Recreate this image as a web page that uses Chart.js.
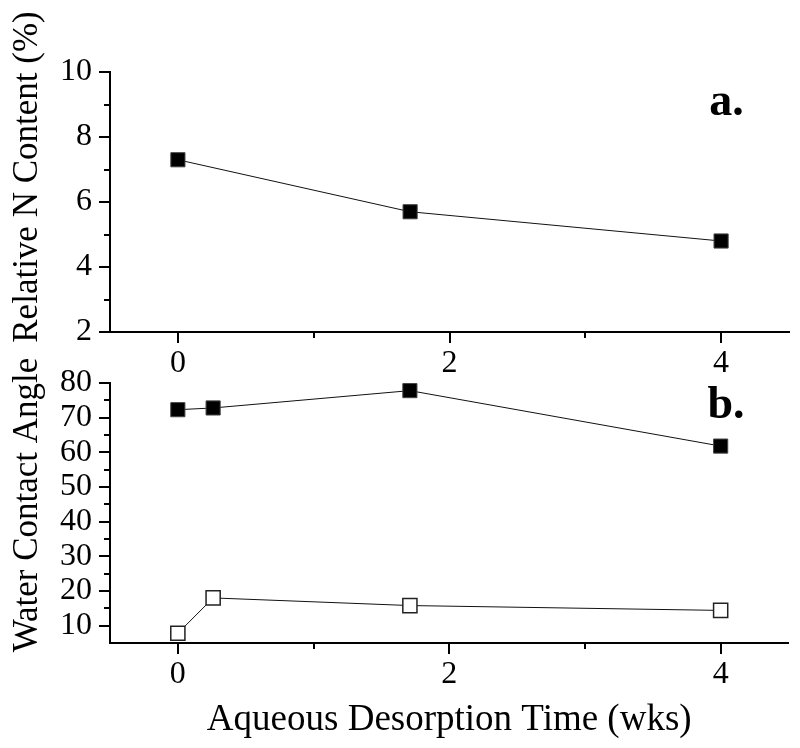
<!DOCTYPE html>
<html>
<head>
<meta charset="utf-8">
<script src="https://cdn.jsdelivr.net/npm/chart.js@4"></script>
<style>
  html, body { margin: 0; padding: 0; background: #fff; }
  #wrap { position: relative; width: 800px; height: 748px; }
  #wrap canvas { position: absolute; left: 0; top: 0; }
</style>
</head>
<body>
<div id="wrap">
  <canvas id="chart-a" width="800" height="748"></canvas>
  <canvas id="chart-b" width="800" height="748"></canvas>
</div>
<script>
// --- data ---
const weeksA      = [0, 1.71, 4];
const nContent    = [7.3, 5.7, 4.8];

const weeksB      = [0, 0.26, 1.71, 4];
const angleFilled = [72.3, 72.8, 77.8, 61.8];
const angleOpen   = [7.8, 18.0, 15.8, 14.4];

// axis ticks (majors get labels + long marks)
const xTicks       = [0, 1, 2, 3, 4];
const xMajor       = [0, 2, 4];
const yTicksA      = [2, 3, 4, 5, 6, 7, 8, 9, 10];
const yMajorA      = [2, 4, 6, 8, 10];
const yTicksB      = [10, 15, 20, 25, 30, 35, 40, 45, 50, 55, 60, 65, 70, 75, 80];
const yMajorB      = [10, 20, 30, 40, 50, 60, 70, 80];

const FONT = 'Liberation Serif, Times New Roman, serif';

const pts = (xs, ys) => xs.map((x, i) => ({ x, y: ys[i] }));

// custom tick marks: outward, long for majors, short for minors
const tickMarks = {
    id: 'tickMarks',
    afterDraw(chart) {
        const ctx  = chart.ctx;
        const area = chart.chartArea;
        const { x, y } = chart.scales;
        ctx.save();
        ctx.strokeStyle = '#000';
        ctx.lineWidth   = 2;
        x.ticks.forEach(t => {
            const px  = Math.round(x.getPixelForValue(t.value));
            const len = t.isMajor ? 11 : 6;
            ctx.beginPath();
            ctx.moveTo(px, area.bottom);
            ctx.lineTo(px, area.bottom + len);
            ctx.stroke();
        });
        y.ticks.forEach(t => {
            const py  = Math.round(y.getPixelForValue(t.value));
            const len = t.isMajor ? 11 : 6;
            ctx.beginPath();
            ctx.moveTo(area.left, py);
            ctx.lineTo(area.left - len, py);
            ctx.stroke();
        });
        ctx.restore();
    }
};

// panel letter ("a." / "b."), placed through the scales
const panelLabel = {
    id: 'panelLabel',
    afterDraw(chart, args, opts) {
        if (!opts.text) return;
        const ctx = chart.ctx;
        const px = chart.scales.x.getPixelForValue(opts.x);
        const py = chart.scales.y.getPixelForValue(opts.y);
        ctx.save();
        ctx.fillStyle    = '#000';
        ctx.font         = `bold 46px ${FONT}`;
        ctx.textAlign    = 'center';
        ctx.textBaseline = 'alphabetic';
        ctx.fillText(opts.text, px, py);
        ctx.restore();
    }
};

// rotated y title; the original sits a bit above the panel centre
const sideTitle = {
    id: 'sideTitle',
    afterDraw(chart, args, opts) {
        if (!opts.text) return;
        const ctx  = chart.ctx;
        const area = chart.chartArea;
        ctx.save();
        ctx.translate(opts.x, (area.top + area.bottom) / 2 + opts.shift);
        ctx.rotate(-Math.PI / 2);
        ctx.fillStyle    = '#000';
        ctx.font         = `${opts.size}px ${FONT}`;
        ctx.textAlign    = 'center';
        ctx.textBaseline = 'middle';
        ctx.fillText(opts.text, 0, 0);
        ctx.restore();
    }
};

function makeTicks(values, majors) {
    return scale => { scale.ticks = values.map(v => ({ value: v, isMajor: majors.includes(v) })); };
}

function baseOptions({ padTop, padBottom, xHeight, yMin, yMax, yTicks, yMajor, yTitle, xTitle, label }) {
    return {
        responsive: false,
        animation: false,
        layout: { padding: { top: padTop, right: 10, bottom: padBottom, left: 0 } },
        plugins: {
            legend: { display: false },
            tooltip: { enabled: false },
            panelLabel: label,
            sideTitle: yTitle
        },
        scales: {
            x: {
                type: 'linear',
                min: -0.5, max: 4.5,
                afterBuildTicks: makeTicks(xTicks, xMajor),
                afterFit: s => { s.height = xHeight; },
                grid: { display: false, drawTicks: false },
                border: { display: true, color: '#000', width: 2 },
                ticks: {
                    autoSkip: false, maxRotation: 0, padding: 12,
                    color: '#000', font: { family: FONT, size: 32 },
                    callback: v => xMajor.includes(v) ? String(v) : ''
                },
                title: {
                    display: !!xTitle, text: xTitle || '',
                    color: '#000', font: { family: FONT, size: 37 },
                    padding: { top: 0, bottom: 6 }
                }
            },
            y: {
                type: 'linear',
                min: yMin, max: yMax,
                afterBuildTicks: makeTicks(yTicks, yMajor),
                afterFit: s => { s.width = 110; },
                grid: { display: false, drawTicks: false },
                border: { display: true, color: '#000', width: 2 },
                ticks: {
                    autoSkip: false, padding: 18,
                    color: '#000', font: { family: FONT, size: 32 },
                    callback: v => yMajor.includes(v) ? String(v) : ''
                },
                title: { display: false }
            }
        }
    };
}

const filledStyle = {
    showLine: true, borderColor: '#111', borderWidth: 1,
    pointStyle: 'rect', pointRadius: 10,
    pointBackgroundColor: '#000', pointBorderColor: '#444', pointBorderWidth: 1,
    clip: false
};
const openStyle = {
    showLine: true, borderColor: '#111', borderWidth: 1,
    pointStyle: 'rect', pointRadius: 10,
    pointBackgroundColor: '#fff', pointBorderColor: '#222', pointBorderWidth: 1.5,
    clip: false
};

new Chart(document.getElementById('chart-a'), {
    type: 'scatter',
    data: { datasets: [{ ...filledStyle, label: 'N content', data: pts(weeksA, nContent) }] },
    options: baseOptions({
        padTop: 72, padBottom: 348, xHeight: 68,
        yMin: 2, yMax: 10, yTicks: yTicksA, yMajor: yMajorA,
        yTitle: { text: 'Relative N Content (%)', size: 35, x: 28, shift: -25 },
        label: { text: 'a.', x: 4.04, y: 8.68 }
    }),
    plugins: [tickMarks, panelLabel, sideTitle]
});

new Chart(document.getElementById('chart-b'), {
    type: 'scatter',
    data: {
        datasets: [
            { ...filledStyle, label: 'filled', data: pts(weeksB, angleFilled) },
            { ...openStyle,   label: 'open',   data: pts(weeksB, angleOpen) }
        ]
    },
    options: baseOptions({
        padTop: 383, padBottom: 0, xHeight: 105,
        yMin: 5, yMax: 80, yTicks: yTicksB, yMajor: yMajorB,
        yTitle: { text: 'Water Contact Angle', size: 35, x: 28, shift: -8 },
        xTitle: 'Aqueous Desorption Time (wks)',
        label: { text: 'b.', x: 4.04, y: 70 }
    }),
    plugins: [tickMarks, panelLabel, sideTitle]
});
</script>
</body>
</html>
